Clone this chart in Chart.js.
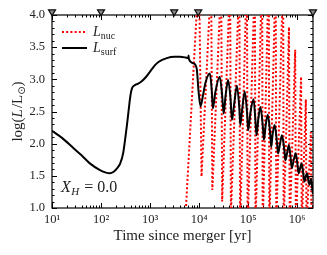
<!DOCTYPE html>
<html>
<head>
<meta charset="utf-8">
<script src="https://cdn.jsdelivr.net/npm/chart.js@4.4.1/dist/chart.umd.min.js"></script>
<style>
  html, body { margin: 0; padding: 0; background: #fff; }
</style>
</head>
<body>
<canvas id="lumChart" width="327" height="255"></canvas>
<script>
// surface luminosity, log(L/Lsun) vs years since merger
const surfTime = [10, 16, 27.5, 40, 60, 95, 126, 151, 178, 214, 245, 282, 309, 339, 363, 398, 427, 490, 562, 676, 832,
  1000, 1260, 1480, 2190, 3160, 4070, 5250, 6030, 6100, 6170, 7590, 8910, 9770,
  10700, 12000, 13500, 16600, 18200, 19100, 21400, 26300, 29500, 31600, 34700, 38900, 43700, 46800, 52500, 58900,
  66100, 69200, 75900, 85100, 95500, 100000, 112000, 129000, 141000, 148000, 162000, 178000, 200000, 209000,
  229000, 251000, 282000, 295000, 316000, 347000, 389000, 407000, 447000, 490000, 550000, 575000, 631000, 676000,
  741000, 776000, 851000, 933000, 1020000, 1070000, 1150000, 1230000, 1350000, 1410000, 1510000, 1580000,
  1700000, 1780000, 1910000, 2000000, 2090000];
const surfLum = [2.2, 2.09, 1.93, 1.82, 1.69, 1.59, 1.55, 1.54, 1.56, 1.62, 1.69, 1.85, 2.06, 2.3, 2.5, 2.75, 2.86, 2.91, 2.93, 2.97, 3.04,
  3.12, 3.22, 3.27, 3.33, 3.35, 3.35, 3.34, 3.33, 3.37, 3.32, 3.25, 3.17, 2.8,
  2.58, 2.75, 2.95, 3.09, 2.8, 2.55, 2.8, 3.04, 2.75, 2.47, 2.75, 2.99, 2.7, 2.37, 2.65, 2.9,
  2.55, 2.29, 2.55, 2.81, 2.45, 2.21, 2.5, 2.69, 2.35, 2.13, 2.4, 2.57, 2.25, 2.06,
  2.3, 2.45, 2.15, 1.95, 2.15, 2.29, 2.0, 1.85, 2.0, 2.13, 1.88, 1.74, 1.88, 1.98,
  1.75, 1.62, 1.75, 1.85, 1.65, 1.54, 1.62, 1.69, 1.5, 1.41, 1.5, 1.54,
  1.42, 1.36, 1.45, 1.35, 1.22];

// nuclear luminosity, pulses shoot far above the top of the plot
const nucTime = [5300, 9000, 9300, 11200,
  16400, 17000, 18600,
  26600, 27500, 29500,
  40700, 42000, 44500,
  63000, 65000, 68500,
  90000, 93000, 97500,
  131000, 135000, 141000,
  184000, 190000, 198000,
  252000, 260000, 270000,
  349000, 360000, 374000,
  495000, 510000, 530000,
  680000, 705000,
  910000, 940000,
  1200000, 1240000,
  1500000, 1550000,
  1900000, 1960000];
const nucLum = [0.9, 4.1, 6.5, 1.49,
  4.1, 6.5, 1.28,
  4.1, 6.5, 1.1,
  4.1, 6.5, 0.9,
  4.1, 6.5, 0.75,
  4.1, 6.5, 0.7,
  4.1, 6.5, 0.7,
  4.1, 6.5, 0.7,
  4.1, 6.5, 0.7,
  4.1, 6.5, 0.7,
  4.1, 6.5, 0.7,
  3.81, 0.7,
  3.46, 0.7,
  3.04, 0.7,
  2.69, 0.7,
  2.18, 0.7];

const markerTime = [10, 100, 3100, 9600, 2100000];
const markerLum = [4.05, 4.05, 4.05, 4.05, 4.05];

const xTicks = [10, 100, 1000, 10000, 100000, 1000000];
const xTickLabels = ['10¹', '10²', '10³', '10⁴', '10⁵', '10⁶'];
const yTicks = [1.0, 1.5, 2.0, 2.5, 3.0, 3.5, 4.0];

const serif = "'Liberation Serif', 'DejaVu Serif', serif";

function richText(ctx, parts, x, y, center) {
    let w = 0;
    parts.forEach(p => { ctx.font = p.font; w += ctx.measureText(p.t).width + (p.gap || 0); });
    let cx = center ? x - w / 2 : x;
    parts.forEach(p => {
        ctx.font = p.font;
        ctx.fillText(p.t, cx, y + (p.dy || 0));
        cx += ctx.measureText(p.t).width + (p.gap || 0);
    });
}

const framePlugin = {
    id: 'frame',
    beforeDatasetsDraw(chart) {
        const {ctx, chartArea: a, scales: {x, y}} = chart;
        ctx.save();
        ctx.strokeStyle = '#000';
        ctx.lineWidth = 1;
        ctx.beginPath();
        // log minor ticks on bottom and top
        for (let d = 1; d <= 6; d++) {
            for (let k = 1; k <= 9; k++) {
                const v = k * Math.pow(10, d);
                if (v > x.max) break;
                const px = Math.round(x.getPixelForValue(v)) + 0.5;
                const len = k === 1 ? 5 : 2.5;
                ctx.moveTo(px, a.bottom); ctx.lineTo(px, a.bottom - len);
                ctx.moveTo(px, a.top); ctx.lineTo(px, a.top + len);
            }
        }
        for (let i = 10; i <= 40; i++) {
            const py = Math.round(y.getPixelForValue(i / 10)) + 0.5;
            const len = i % 5 === 0 ? 5 : 2.5;
            ctx.moveTo(a.left, py); ctx.lineTo(a.left + len, py);
            ctx.moveTo(a.right, py); ctx.lineTo(a.right - len, py);
        }
        ctx.stroke();
        ctx.lineWidth = 1.2;
        ctx.strokeRect(a.left, a.top, a.right - a.left, a.bottom - a.top);
        ctx.restore();
    },
    afterDraw(chart) {
        const {ctx, chartArea: a} = chart;
        ctx.save();
        ctx.fillStyle = '#222';
        ctx.textBaseline = 'alphabetic';

        // legend
        ctx.lineWidth = 2;
        ctx.strokeStyle = '#ff0000';
        ctx.setLineDash([2, 2.2]);
        ctx.beginPath(); ctx.moveTo(62, 32); ctx.lineTo(87, 32); ctx.stroke();
        ctx.setLineDash([]);
        ctx.strokeStyle = '#000';
        ctx.beginPath(); ctx.moveTo(62, 48); ctx.lineTo(87, 48); ctx.stroke();
        richText(ctx, [
            {t: 'L', font: 'italic 14px ' + serif},
            {t: 'nuc', font: '10px ' + serif, dy: 3}
        ], 93, 36);
        richText(ctx, [
            {t: 'L', font: 'italic 14px ' + serif},
            {t: 'surf', font: '10px ' + serif, dy: 3}
        ], 93, 52);

        // composition label
        richText(ctx, [
            {t: 'X', font: 'italic 16px ' + serif, gap: 0.5},
            {t: 'H', font: 'italic 11px ' + serif, dy: 3, gap: 5},
            {t: '= 0.0', font: '16px ' + serif}
        ], 61, 192);

        // y axis title
        ctx.translate(17, (a.top + a.bottom) / 2);
        ctx.rotate(-Math.PI / 2);
        richText(ctx, [
            {t: 'log(', font: '15px ' + serif},
            {t: 'L', font: 'italic 15px ' + serif, gap: 1},
            {t: '/L', font: '15px ' + serif},
            {t: '⊙', font: '10px DejaVu Sans', dy: 3},
            {t: ')', font: '15px ' + serif}
        ], 0, 5, true);
        ctx.restore();
    }
};

new Chart(document.getElementById('lumChart').getContext('2d'), {
    type: 'line',
    data: {
        datasets: [{
            label: 'markers',
            type: 'scatter',
            data: markerTime.map((t, i) => ({x: t, y: markerLum[i]})),
            pointStyle: 'triangle',
            rotation: 180,
            pointRadius: 4,
            pointBackgroundColor: '#8a8a8a',
            pointBorderColor: '#111',
            pointBorderWidth: 1.3,
            clip: false
        }, {
            label: 'L_surf',
            data: surfTime.map((t, i) => ({x: t, y: surfLum[i]})),
            borderColor: '#000',
            borderWidth: 2,
            pointRadius: 0,
            cubicInterpolationMode: 'monotone',
            fill: false
        }, {
            label: 'L_nuc',
            data: nucTime.map((t, i) => ({x: t, y: nucLum[i]})),
            borderColor: '#ff0000',
            borderWidth: 2,
            borderDash: [2, 2.2],
            pointRadius: 0,
            tension: 0,
            fill: false
        }]
    },
    options: {
        responsive: false,
        animation: false,
        devicePixelRatio: 1,
        layout: { padding: { top: 15, right: 14, left: 0, bottom: 0 } },
        plugins: {
            legend: { display: false },
            tooltip: { enabled: false }
        },
        scales: {
            x: {
                type: 'logarithmic',
                min: 10,
                max: 2100000,
                grid: { display: false, drawTicks: false },
                border: { display: false },
                afterBuildTicks: s => { s.ticks = xTicks.map(v => ({value: v})); },
                afterFit: s => { s.height = 47; },
                ticks: {
                    autoSkip: false,
                    maxRotation: 0,
                    padding: 4,
                    color: '#222',
                    font: { family: serif, size: 12.5 },
                    callback: v => xTickLabels[xTicks.indexOf(v)]
                },
                title: {
                    display: true,
                    text: 'Time since merger [yr]',
                    color: '#222',
                    font: { family: serif, size: 15 },
                    padding: { top: 0, bottom: 10 }
                }
            },
            y: {
                min: 1,
                max: 4,
                grid: { display: false, drawTicks: false },
                border: { display: false },
                afterBuildTicks: s => { s.ticks = yTicks.map(v => ({value: v})); },
                afterFit: s => { s.width = 52; },
                ticks: {
                    padding: 7,
                    color: '#222',
                    font: { family: serif, size: 12.5 },
                    callback: v => v.toFixed(1)
                }
            }
        }
    },
    plugins: [framePlugin]
});
</script>
</body>
</html>
